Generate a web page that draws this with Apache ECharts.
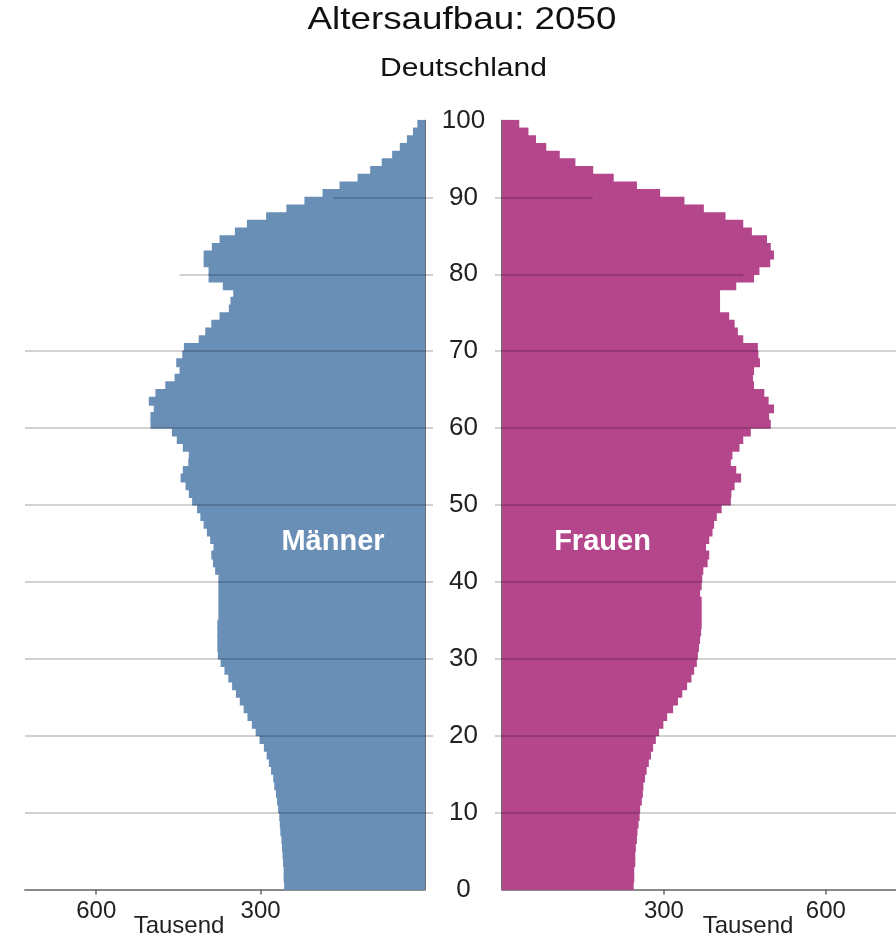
<!DOCTYPE html>
<html>
<head>
<meta charset="utf-8">
<script src="https://cdn.jsdelivr.net/npm/echarts@6/dist/echarts.min.js"></script>
<style>
html,body{margin:0;padding:0;background:#fff;}
#chart{width:896px;height:940px;}
</style>
</head>
<body>
<div id="chart"></div>
<script>
// ---- data (thousands of persons, ages 0..99) ----
const ages = Array.from({length: 100}, (_, i) => String(i));
const maenner = [257,258,258,259,260,261,262,264,265,266,268,270,272,275,277,281,285,289,294,302,
  309,316,324,331,338,345,352,359,366,373,378,379,379,379,379,377,377,377,377,377,
  377,383,387,390,386,392,398,404,410,416,425,431,437,446,442,432,431,442,453,462,
  501,501,495,504,492,474,457,448,454,443,440,413,401,390,375,358,355,350,369,395,
  395,404,404,389,375,347,325,290,253,220,187,156,123,100,79,60,46,33,22,14];
const frauen = [244,245,245,247,247,248,250,251,253,255,256,259,261,262,265,268,272,276,280,285,
  291,299,306,317,326,334,343,351,356,361,363,365,367,369,370,370,370,370,367,370,
  371,373,381,384,378,384,390,393,398,407,424,425,431,443,434,424,427,440,447,461,
  498,495,504,494,486,467,465,467,478,475,474,447,437,431,421,404,404,404,434,467,
  477,497,504,498,491,463,447,414,374,338,293,250,207,169,136,107,82,63,49,32];
const xTicks = [300, 600];
const gridAges = [10, 20, 30, 40, 50, 60, 70, 80, 90];
const gridEndLeft = [730, 730, 730, 730, 730, 730, 730, 448, 167];
const gridEndRight = [730, 730, 730, 730, 730, 730, 730, 447, 168];
const xMax = 730;

const FONT = "'Liberation Sans', Arial, Helvetica, sans-serif";
const gridLineColor = 'rgba(0,0,0,0.24)';
const blue = '#6a8fb6';
const magenta = '#b4468c';

function gridLines(ends) {
  return gridAges.map((a, i) => ({coords: [[0, a], [ends[i], a]]}));
}

const chart = echarts.init(document.getElementById('chart'), null, {renderer: 'canvas'});

function xAxisDef(idx, inverse) {
  return {
    type: 'value', gridIndex: idx, min: 0, max: xMax, interval: 300, inverse: inverse,
    axisLine: {show: true, lineStyle: {color: '#8a8a8a', width: 2}},
    axisTick: {show: true, length: 5, customValues: xTicks, lineStyle: {color: '#666', width: 1.5}},
    axisLabel: {
      customValues: xTicks, margin: 10, color: '#222', fontSize: 24, fontFamily: FONT,
      formatter: v => (xTicks.indexOf(v) >= 0 ? String(v) : '')
    },
    splitLine: {show: false}
  };
}

const option = {
  backgroundColor: '#fff',
  animation: false,
  grid: [
    {left: 25, width: 400, top: 120.5, height: 769},
    {left: 502, width: 400, top: 120.5, height: 769}
  ],
  xAxis: [xAxisDef(0, true), xAxisDef(1, false)],
  yAxis: [
    {type: 'category', gridIndex: 0, data: ages, show: false, boundaryGap: true},
    {type: 'value', gridIndex: 0, min: 0, max: 100, interval: 10, position: 'right',
     axisLine: {show: true, lineStyle: {color: '#3c3c3c', width: 1.5}},
     axisTick: {show: true, length: 8, customValues: gridAges, lineStyle: {color: gridLineColor, width: 1.5}},
     axisLabel: {show: false}, splitLine: {show: false}},
    {type: 'category', gridIndex: 1, data: ages, show: false, boundaryGap: true},
    {type: 'value', gridIndex: 1, min: 0, max: 100, interval: 10, position: 'left',
     axisLine: {show: true, lineStyle: {color: '#3c3c3c', width: 1.5}},
     axisTick: {show: true, length: 7, customValues: gridAges, lineStyle: {color: gridLineColor, width: 1.5}},
     axisLabel: {show: true, align: 'center', margin: 38.5, color: '#222', fontSize: 26, fontFamily: FONT},
     splitLine: {show: false}}
  ],
  series: [
    {name: 'Männer', type: 'bar', xAxisIndex: 0, yAxisIndex: 0, data: maenner,
     barWidth: '116%', clip: false, itemStyle: {color: blue}, z: 2},
    {name: 'Frauen', type: 'bar', xAxisIndex: 1, yAxisIndex: 2, data: frauen,
     barWidth: '116%', clip: false, itemStyle: {color: magenta}, z: 2},
    {type: 'lines', coordinateSystem: 'cartesian2d', xAxisIndex: 0, yAxisIndex: 1, z: 5,
     silent: true, lineStyle: {color: gridLineColor, width: 1.5, opacity: 1},
     data: gridLines(gridEndLeft)},
    {type: 'lines', coordinateSystem: 'cartesian2d', xAxisIndex: 1, yAxisIndex: 3, z: 5,
     silent: true, lineStyle: {color: gridLineColor, width: 1.5, opacity: 1},
     data: gridLines(gridEndRight)}
  ],
  graphic: [
    {type: 'text', x: 462, y: 20, scaleX: 1.15,
     style: {text: 'Altersaufbau: 2050', fill: '#111', font: '32px ' + FONT, align: 'center', verticalAlign: 'middle'}},
    {type: 'text', x: 463.5, y: 69, scaleX: 1.2,
     style: {text: 'Deutschland', fill: '#111', font: '25px ' + FONT, align: 'center', verticalAlign: 'middle'}},
    {type: 'text', x: 333, y: 542, z: 10,
     style: {text: 'Männer', fill: '#fff', font: 'bold 29px ' + FONT, align: 'center', verticalAlign: 'middle'}},
    {type: 'text', x: 602.5, y: 542, z: 10,
     style: {text: 'Frauen', fill: '#fff', font: 'bold 29px ' + FONT, align: 'center', verticalAlign: 'middle'}},
    {type: 'text', x: 179, y: 926,
     style: {text: 'Tausend', fill: '#222', font: '24px ' + FONT, align: 'center', verticalAlign: 'middle'}},
    {type: 'text', x: 748, y: 926,
     style: {text: 'Tausend', fill: '#222', font: '24px ' + FONT, align: 'center', verticalAlign: 'middle'}}
  ]
};
chart.setOption(option);
</script>
</body>
</html>
